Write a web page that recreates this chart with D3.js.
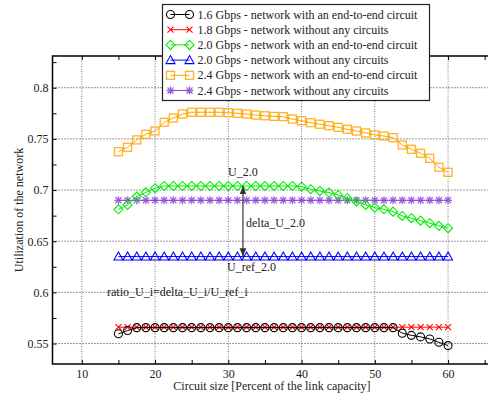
<!DOCTYPE html>
<meta charset="utf-8">
<style>
    body { margin: 0; background: #fff; }
    svg { display: block; font-family: "Liberation Serif", "DejaVu Serif", serif; }
    .axis path { display: none; }
    .axis line { stroke: #000; }
    .axis text { font-size: 12px; fill: #222; font-family: "Liberation Serif", serif; }
</style>
<body>
<script src="https://d3js.org/d3.v7.min.js"></script>
<script>

// circuit sizes (percent of link capacity)
var circuitSize = [15, 16.25, 17.5, 18.75, 20, 21.25, 22.5, 23.75, 25, 26.25, 27.5, 28.75,
    30, 31.25, 32.5, 33.75, 35, 36.25, 37.5, 38.75, 40, 41.25, 42.5, 43.75, 45, 46.25,
    47.5, 48.75, 50, 51.25, 52.5, 53.75, 55, 56.25, 57.5, 58.75, 60];

// utilization values
var u16Circuit = [0.5595, 0.5627, 0.5655, 0.5655, 0.5655, 0.5655, 0.5655, 0.5655, 0.5655, 0.5655,
    0.5655, 0.5655, 0.5655, 0.5655, 0.5655, 0.5655, 0.5655, 0.5655, 0.5655, 0.5655, 0.5655,
    0.5655, 0.5655, 0.5655, 0.5655, 0.5655, 0.5655, 0.5655, 0.5655, 0.5655, 0.5655,
    0.5601, 0.558, 0.5565, 0.5545, 0.5512, 0.548];
var u18None = [0.566, 0.566, 0.566, 0.566, 0.566, 0.566, 0.566, 0.566, 0.566, 0.566, 0.566,
    0.566, 0.566, 0.566, 0.566, 0.566, 0.566, 0.566, 0.566, 0.566, 0.566, 0.566, 0.566,
    0.566, 0.566, 0.566, 0.566, 0.566, 0.566, 0.566, 0.566, 0.566, 0.566, 0.566, 0.566,
    0.566, 0.566];
var u20Circuit = [0.6812, 0.6855, 0.6936, 0.6978, 0.7018, 0.704, 0.704, 0.704, 0.704, 0.704,
    0.704, 0.704, 0.704, 0.704, 0.704, 0.704, 0.704, 0.704, 0.704, 0.704, 0.7033, 0.7008,
    0.6991, 0.6975, 0.6952, 0.692, 0.6887, 0.6855, 0.6828, 0.6812, 0.6789, 0.6747, 0.6725,
    0.6701, 0.6676, 0.665, 0.6627];
var u20None = [0.635, 0.635, 0.635, 0.635, 0.635, 0.635, 0.635, 0.635, 0.635, 0.635, 0.635,
    0.635, 0.635, 0.635, 0.635, 0.635, 0.635, 0.635, 0.635, 0.635, 0.635, 0.635, 0.635,
    0.635, 0.635, 0.635, 0.635, 0.635, 0.635, 0.635, 0.635, 0.635, 0.635, 0.635, 0.635,
    0.635, 0.635];
var u24Circuit = [0.7375, 0.7418, 0.749, 0.7545, 0.7577, 0.7662, 0.7704, 0.7743, 0.776, 0.776,
    0.776, 0.776, 0.7756, 0.775, 0.7743, 0.7733, 0.7726, 0.772, 0.7717, 0.7694, 0.7678,
    0.7658, 0.7643, 0.7629, 0.7613, 0.7594, 0.7577, 0.7558, 0.7538, 0.7528, 0.7512, 0.744,
    0.7398, 0.7359, 0.731, 0.7223, 0.7174];
var u24None = [0.69, 0.69, 0.69, 0.69, 0.69, 0.69, 0.69, 0.69, 0.69, 0.69, 0.69, 0.69, 0.69,
    0.69, 0.69, 0.69, 0.69, 0.69, 0.69, 0.69, 0.69, 0.69, 0.69, 0.69, 0.69, 0.69, 0.69, 0.69,
    0.69, 0.69, 0.69, 0.69, 0.69, 0.69, 0.69, 0.69, 0.69];

var seriesNames = ['1.6 Gbps - network with an end-to-end circuit',
    '1.8 Gbps - network without any circuits',
    '2.0 Gbps - network with an end-to-end circuit',
    '2.0 Gbps - network without any circuits',
    '2.4 Gbps  - network with an end-to-end circuit',
    '2.4 Gbps - network without any circuits'];

var xMajorTicks = [10, 20, 30, 40, 50, 60];
var xMinorTicks = [15, 25, 35, 45, 55, 65];
var yMajorTicks = [0.55, 0.6, 0.65, 0.7, 0.75, 0.8];
var yMinorTicks = [0.575, 0.625, 0.675, 0.725, 0.775, 0.825];

// annotation: arrow between U_ref_2.0 and U_2.0 at this circuit size
var arrowX = 32;
var arrowFrom = 0.635, arrowTo = 0.704;

var series = [
    {name: seriesNames[0], values: u16Circuit, color: '#000000', marker: 'circle'},
    {name: seriesNames[1], values: u18None, color: '#ff0000', marker: 'cross'},
    {name: seriesNames[2], values: u20Circuit, color: '#00ee00', marker: 'diamond'},
    {name: seriesNames[3], values: u20None, color: '#0000ff', marker: 'triangle'},
    {name: seriesNames[4], values: u24Circuit, color: '#ffa500', marker: 'square'},
    {name: seriesNames[5], values: u24None, color: '#8a3fd8', marker: 'star'}
];

var width = 488, height = 399;
var plot = {left: 52.5, right: 492, top: 56, bottom: 364};
var serif = '"Liberation Serif", "Times New Roman", serif';

var svg = d3.select('body').append('svg')
    .attr('width', width)
    .attr('height', height);

var x = d3.scaleLinear().domain([6, 66]).range([plot.left, plot.right]);
var y = d3.scaleLinear().domain([0.53, 0.831]).range([plot.bottom, plot.top]);

// grid lines
svg.append('g').selectAll('line')
    .data(xMajorTicks).enter().append('line')
    .attr('x1', function(d) { return x(d); })
    .attr('x2', function(d) { return x(d); })
    .attr('y1', plot.top).attr('y2', plot.bottom)
    .attr('stroke', '#777').attr('stroke-width', 1)
    .attr('stroke-dasharray', '1,1.5');
svg.append('g').selectAll('line')
    .data(yMajorTicks).enter().append('line')
    .attr('x1', plot.left).attr('x2', plot.right)
    .attr('y1', function(d) { return y(d); })
    .attr('y2', function(d) { return y(d); })
    .attr('stroke', '#333').attr('stroke-width', 1)
    .attr('stroke-dasharray', '1,2');

// axes (ticks point inward)
svg.append('g').attr('class', 'axis')
    .attr('transform', 'translate(0,' + plot.bottom + ')')
    .call(d3.axisBottom(x).tickValues(xMajorTicks).tickSize(-4).tickPadding(5)
        .tickFormat(function(d) { return d; }))
    .attr('font-family', serif);
svg.append('g').attr('class', 'axis')
    .attr('transform', 'translate(0,' + plot.bottom + ')')
    .call(d3.axisBottom(x).tickValues(xMinorTicks).tickSize(-4).tickFormat(''));
svg.append('g').attr('class', 'axis')
    .attr('transform', 'translate(0,' + plot.top + ')')
    .call(d3.axisTop(x).tickValues(xMajorTicks.concat(xMinorTicks)).tickSize(-4).tickFormat(''));

svg.append('g').attr('class', 'axis')
    .attr('transform', 'translate(' + plot.left + ',0)')
    .call(d3.axisLeft(y).tickValues(yMajorTicks).tickSize(-4).tickPadding(4)
        .tickFormat(function(d) { return String(d); }))
    .attr('font-family', serif);
svg.append('g').attr('class', 'axis')
    .attr('transform', 'translate(' + plot.left + ',0)')
    .call(d3.axisLeft(y).tickValues(yMinorTicks).tickSize(-4).tickFormat(''));
svg.append('g').attr('class', 'axis')
    .attr('transform', 'translate(' + plot.right + ',0)')
    .call(d3.axisRight(y).tickValues(yMajorTicks.concat(yMinorTicks)).tickSize(-4).tickFormat(''));

// frame
svg.append('rect')
    .attr('x', plot.left).attr('y', plot.top)
    .attr('width', plot.right - plot.left).attr('height', plot.bottom - plot.top)
    .attr('fill', 'none').attr('stroke', '#000').attr('stroke-width', 1.5);

// marker drawing
function drawMarker(g, type, color) {
    var s = 4;
    if (type === 'circle') {
        g.append('circle').attr('r', s).attr('fill', 'none').attr('stroke', color).attr('stroke-width', 1.1);
    } else if (type === 'cross') {
        g.append('path').attr('d', 'M-3,-3L3,3M-3,3L3,-3').attr('stroke', color).attr('stroke-width', 1.1);
    } else if (type === 'diamond') {
        g.append('path').attr('d', 'M0,-4.5L4.5,0L0,4.5L-4.5,0Z').attr('fill', 'none')
            .attr('stroke', color).attr('stroke-width', 1.1);
    } else if (type === 'triangle') {
        g.append('path').attr('d', 'M0,-4.5L4.5,3.5L-4.5,3.5Z').attr('fill', 'none')
            .attr('stroke', color).attr('stroke-width', 1.1);
    } else if (type === 'square') {
        g.append('rect').attr('x', -4).attr('y', -4).attr('width', 8).attr('height', 8)
            .attr('fill', 'none').attr('stroke', color).attr('stroke-width', 1.3).attr('stroke-opacity', 0.85);
    } else if (type === 'star') {
        g.append('path').attr('d', 'M-4,0L4,0M0,-4L0,4M-3,-3L3,3M-3,3L3,-3')
            .attr('stroke', color).attr('stroke-width', 1.3).attr('stroke-opacity', 0.8);
    }
}

var line = d3.line()
    .x(function(d, i) { return x(circuitSize[i]); })
    .y(function(d) { return y(d); });

// draw in an order so circles/crosses and triangles overlay like the picture
[5, 3, 2, 4, 1, 0].forEach(function(k) {
    var s = series[k];
    var g = svg.append('g');
    g.append('path')
        .datum(s.values)
        .attr('d', line)
        .attr('fill', 'none')
        .attr('stroke', s.color)
        .attr('stroke-width', 1);
    g.selectAll('g.m')
        .data(s.values).enter().append('g')
        .attr('class', 'm')
        .attr('transform', function(d, i) {
            return 'translate(' + x(circuitSize[i]) + ',' + y(d) + ')';
        })
        .each(function() { drawMarker(d3.select(this), s.marker, s.color); });
});

// annotation arrow
svg.append('defs').append('marker')
    .attr('id', 'arrowhead')
    .attr('viewBox', '0 0 10 10')
    .attr('refX', 10).attr('refY', 5)
    .attr('markerWidth', 7).attr('markerHeight', 7)
    .attr('orient', 'auto-start-reverse')
    .append('path')
    .attr('d', 'M0,1L10,5L0,9Z')
    .attr('fill', '#333');

svg.append('line')
    .attr('x1', x(arrowX)).attr('x2', x(arrowX))
    .attr('y1', y(arrowFrom)).attr('y2', y(arrowTo))
    .attr('stroke', '#333').attr('stroke-width', 1.2)
    .attr('marker-start', 'url(#arrowhead)')
    .attr('marker-end', 'url(#arrowhead)');

var notes = [
    {text: 'U_2.0', x: 228, y: 176},
    {text: 'delta_U_2.0', x: 246, y: 227},
    {text: 'U_ref_2.0', x: 227, y: 271},
    {text: 'ratio_U_i=delta_U_i/U_ref_i', x: 107, y: 296}
];
svg.append('g').selectAll('text')
    .data(notes).enter().append('text')
    .attr('x', function(d) { return d.x; })
    .attr('y', function(d) { return d.y; })
    .attr('font-size', 12)
    .attr('fill', '#222')
    .text(function(d) { return d.text; });

// axis titles
svg.append('text')
    .attr('x', 272).attr('y', 390)
    .attr('text-anchor', 'middle')
    .attr('font-size', 12)
    .attr('fill', '#222')
    .text('Circuit size [Percent of the link capacity]');
svg.append('text')
    .attr('transform', 'translate(23,210) rotate(-90)')
    .attr('text-anchor', 'middle')
    .attr('font-size', 12)
    .attr('fill', '#222')
    .text('Utilization of the network');

// legend
var legend = svg.append('g').attr('transform', 'translate(162.5,4.5)');
legend.append('rect')
    .attr('width', 267).attr('height', 96)
    .attr('fill', '#fff').attr('stroke', '#222').attr('stroke-width', 1.2);

var legendRow = legend.selectAll('g.row')
    .data(series).enter().append('g')
    .attr('class', 'row')
    .attr('transform', function(d, i) { return 'translate(0,' + (10 + i * 15.2) + ')'; });

legendRow.append('line')
    .attr('x1', 8).attr('x2', 27)
    .attr('stroke', function(d) { return d.color; })
    .attr('stroke-width', 1);
legendRow.each(function(d) {
    var r = d3.select(this);
    drawMarker(r.append('g').attr('transform', 'translate(8,0)'), d.marker, d.color);
    drawMarker(r.append('g').attr('transform', 'translate(27,0)'), d.marker, d.color);
});
legendRow.append('text')
    .attr('x', 35).attr('y', 4)
    .attr('font-size', 12)
    .attr('fill', '#222')
    .text(function(d) { return d.name; });

</script>
</body>
